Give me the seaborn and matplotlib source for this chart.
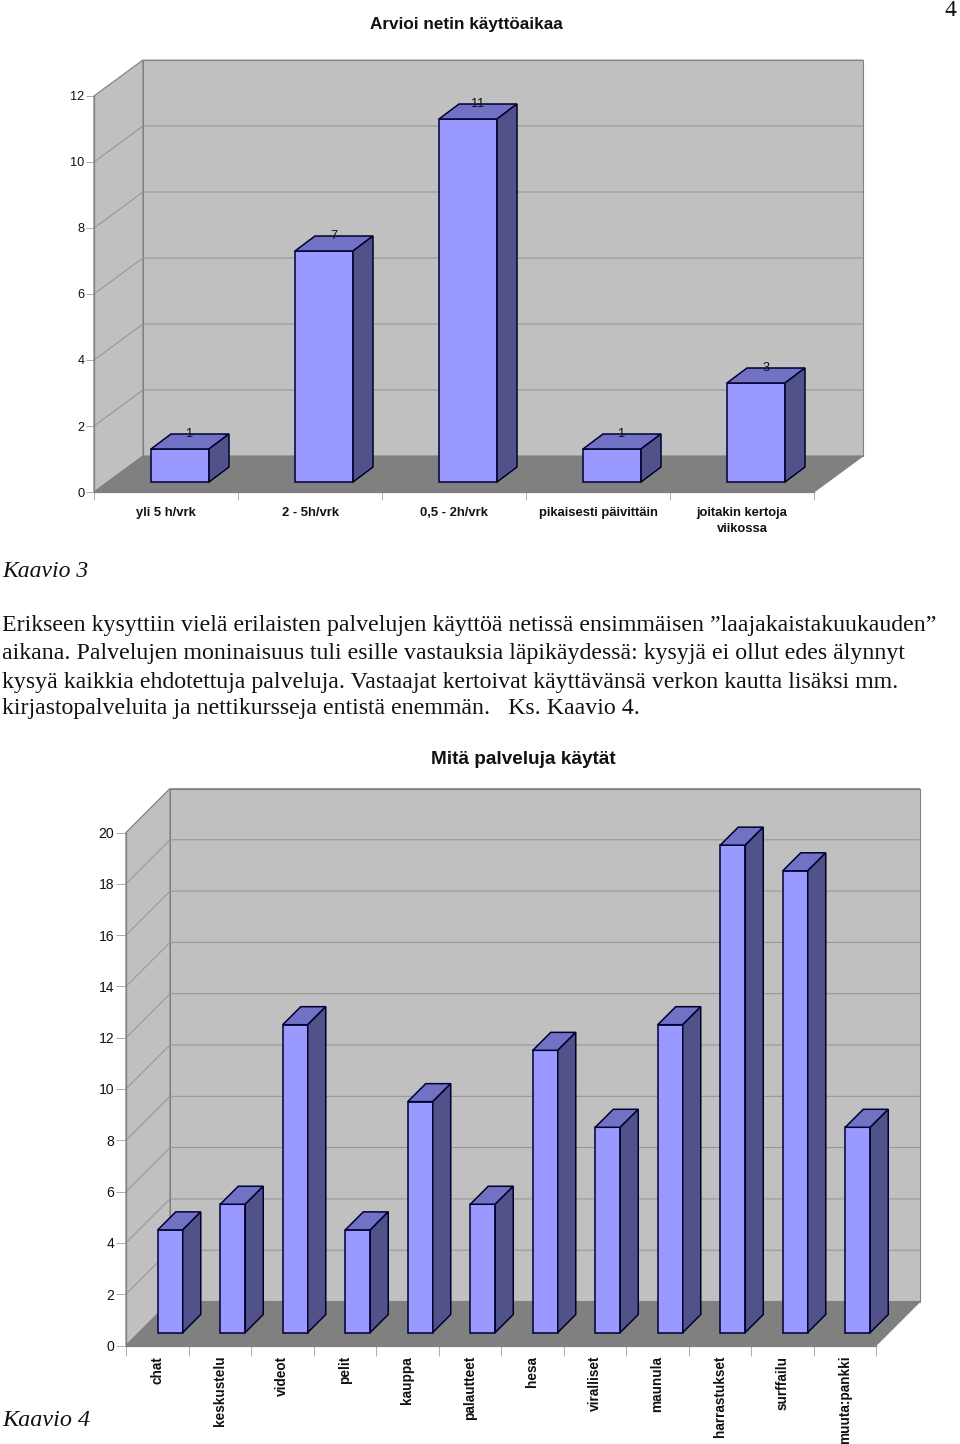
#!/usr/bin/env python3
"""Two fake-3D bar charts on a scanned report page."""

import matplotlib
matplotlib.use('Agg')
import matplotlib.pyplot as plt
from matplotlib.patches import Polygon
import seaborn as sns

W, H = 960, 1444

# Chart data
usage_title = 'Arvioi netin käyttöaikaa'
usage_labels = ['yli 5 h/vrk', '2 - 5h/vrk', '0,5 - 2h/vrk', 'pikaisesti päivittäin',
                'joitakin kertoja\nviikossa']
usage_values = [1, 7, 11, 1, 3]
usage_ticks = [0, 2, 4, 6, 8, 10, 12]

service_title = 'Mitä palveluja käytät'
service_labels = ['chat', 'keskustelu', 'videot', 'pelit', 'kauppa', 'palautteet', 'hesa',
                  'viralliset', 'maunula', 'harrastukset', 'surffailu', 'muuta:pankki']
service_values = [4, 5, 12, 4, 9, 5, 11, 8, 12, 19, 18, 8]
service_ticks = [0, 2, 4, 6, 8, 10, 12, 14, 16, 18, 20]

# Page text
paragraph_lines = [
    'Erikseen kysyttiin vielä erilaisten palvelujen käyttöä netissä ensimmäisen ”laajakaistakuukauden”',
    'aikana. Palvelujen moninaisuus tuli esille vastauksia läpikäydessä: kysyjä ei ollut edes älynnyt',
    'kysyä kaikkia ehdotettuja palveluja. Vastaajat kertoivat käyttävänsä verkon kautta lisäksi mm.',
    'kirjastopalveluita ja nettikursseja entistä enemmän.   Ks. Kaavio 4.',
]
paragraph_y = [626, 654, 682, 709]

BAR = '#9999ff'
BAR_TOP = '#7272c4'
BAR_SIDE = '#52528a'
BAR_EDGE = '#000030'
WALL = '#c0c0c0'
FLOOR = '#808080'
GRID = '#929292'

sns.set_style('white')
plt.rcParams['font.family'] = ['Liberation Sans', 'DejaVu Sans']


def px_axes(fig, left, right, bottom, top):
    """Axes from pixel edges of the page."""
    return fig.add_axes([left / W, 1 - bottom / H, (right - left) / W, (bottom - top) / H])


def draw_chart(ax, labels, values, ticks, wall, shift, depth, width, rotate=False,
               annotate=True, label_pad=10.5, label_size=9.4, tick_size=9.2, tick_len=5.5):
    n = len(labels)
    sns.barplot(x=labels, y=values, color=BAR, saturation=1, width=width, ax=ax,
                edgecolor=BAR_EDGE, linewidth=1.1, zorder=3)
    ax.set_xlim(-0.5, n - 0.5)
    ax.set_ylim(ticks[0], ticks[-1])

    # pixel offsets to data units
    bbox = ax.get_position()
    xpx = bbox.width * W / n
    ypx = bbox.height * H / ticks[-1]
    wx, wy = wall[0] / xpx, wall[1] / ypx
    sx, sy = shift[0] / xpx, shift[1] / ypx
    dx, dy = depth[0] / xpx, depth[1] / ypx

    # walls and floor
    x0, x1 = -0.5, n - 0.5
    top = ticks[-1]
    ax.add_patch(Polygon([(x0, 0), (x0 + wx, wy), (x0 + wx, top + wy), (x0, top)],
                         fc=WALL, ec=FLOOR, lw=0.8, zorder=1, clip_on=False))
    ax.add_patch(Polygon([(x0 + wx, wy), (x1 + wx, wy), (x1 + wx, top + wy), (x0 + wx, top + wy)],
                         fc=WALL, ec=FLOOR, lw=0.8, zorder=1, clip_on=False))
    for t in ticks[1:]:
        ax.plot([x0, x0 + wx, x1 + wx], [t, t + wy, t + wy], color=GRID, lw=0.7,
                zorder=1.5, clip_on=False)
    ax.add_patch(Polygon([(x0, 0), (x1, 0), (x1 + wx, wy), (x0 + wx, wy)],
                         fc=FLOOR, ec=FLOOR, lw=0.8, zorder=2, clip_on=False))

    # extrude the seaborn bars
    for bar, val in zip(list(ax.patches), values):
        if bar.get_height() != val:
            continue
        bar.set_x(bar.get_x() + sx)
        bar.set_y(sy)
        bar.set_clip_on(False)
        xl, xr = bar.get_x(), bar.get_x() + bar.get_width()
        yb, yt = sy, sy + val
        ax.add_patch(Polygon([(xl, yt), (xr, yt), (xr + dx, yt + dy), (xl + dx, yt + dy)],
                             fc=BAR_TOP, ec=BAR_EDGE, lw=1.1, zorder=3, clip_on=False))
        ax.add_patch(Polygon([(xr, yb), (xr + dx, yb + dy), (xr + dx, yt + dy), (xr, yt)],
                             fc=BAR_SIDE, ec=BAR_EDGE, lw=1.1, zorder=3, clip_on=False))
        if annotate:
            ax.text((xl + xr + dx) / 2, yt + dy, str(val), ha='center', va='center',
                    fontsize=9.2, color='#111111', zorder=4)

    # axes furniture
    sns.despine(ax=ax, top=True, right=True)
    for side in ('left', 'bottom'):
        ax.spines[side].set_color(FLOOR)
        ax.spines[side].set_linewidth(0.9)
    ax.set_yticks(ticks)
    ax.tick_params(axis='y', length=tick_len, width=0.6, color='#a0a0a0', pad=1.4,
                   labelsize=tick_size, left=True, labelcolor='#111111')
    ax.set_xticks([i - 0.5 for i in range(n + 1)])
    ax.set_xticklabels([])
    ax.tick_params(axis='x', which='major', length=tick_len, width=0.6, color='#a0a0a0', bottom=True)
    ax.set_xticks(range(n), minor=True)
    ax.set_xticklabels(labels, minor=True, fontweight='bold', fontsize=label_size,
                       rotation=90 if rotate else 0, color='#111111',
                       linespacing=1.44)
    ax.tick_params(axis='x', which='minor', length=0, pad=label_pad)
    ax.set_xlabel('')
    ax.set_ylabel('')
    ax.patch.set_visible(False)


def main():
    fig = plt.figure(figsize=(W / 100, H / 100), dpi=100, facecolor='white')

    ax1 = px_axes(fig, 94, 814, 492, 96)
    draw_chart(ax1, usage_labels, usage_values, usage_ticks, wall=(49, 36), shift=(14, 10),
               depth=(20, 15), width=58 / 144)
    ax2 = px_axes(fig, 126, 876, 1345.5, 832.5)
    draw_chart(ax2, service_labels, service_values, service_ticks, wall=(44, 44), shift=(13, 13),
               depth=(18, 18), width=25 / 62.5, rotate=True, annotate=False, label_pad=7.4,
               label_size=9.8, tick_size=10.1, tick_len=7)

    fig.text(466 / W, 1 - 24 / H, usage_title, ha='center', va='center',
             fontsize=12.3, fontweight='bold', color='#111111')
    fig.text(523 / W, 1 - 760 / H, service_title, ha='center', va='center',
             fontsize=13.6, fontweight='bold', color='#111111')

    serif = ['Liberation Serif', 'DejaVu Serif']
    fig.text(950 / W, 1 - 11 / H, '4', ha='center', va='center', fontsize=17,
             family=serif, color='#111111')
    fig.text(2 / W, 1 - 571 / H, 'Kaavio 3', ha='left', va='center', fontsize=17,
             family=serif, style='italic', color='#111111')
    fig.text(2 / W, 1 - 1421 / H, 'Kaavio 4', ha='left', va='center', fontsize=17.4,
             family=serif, style='italic', color='#111111')
    for line, y in zip(paragraph_lines, paragraph_y):
        fig.text(2 / W, 1 - y / H, line, ha='left', va='center', fontsize=17.2,
                 family=serif, color='#111111')

    fig.savefig('out.png', dpi=100)


if __name__ == '__main__':
    main()
